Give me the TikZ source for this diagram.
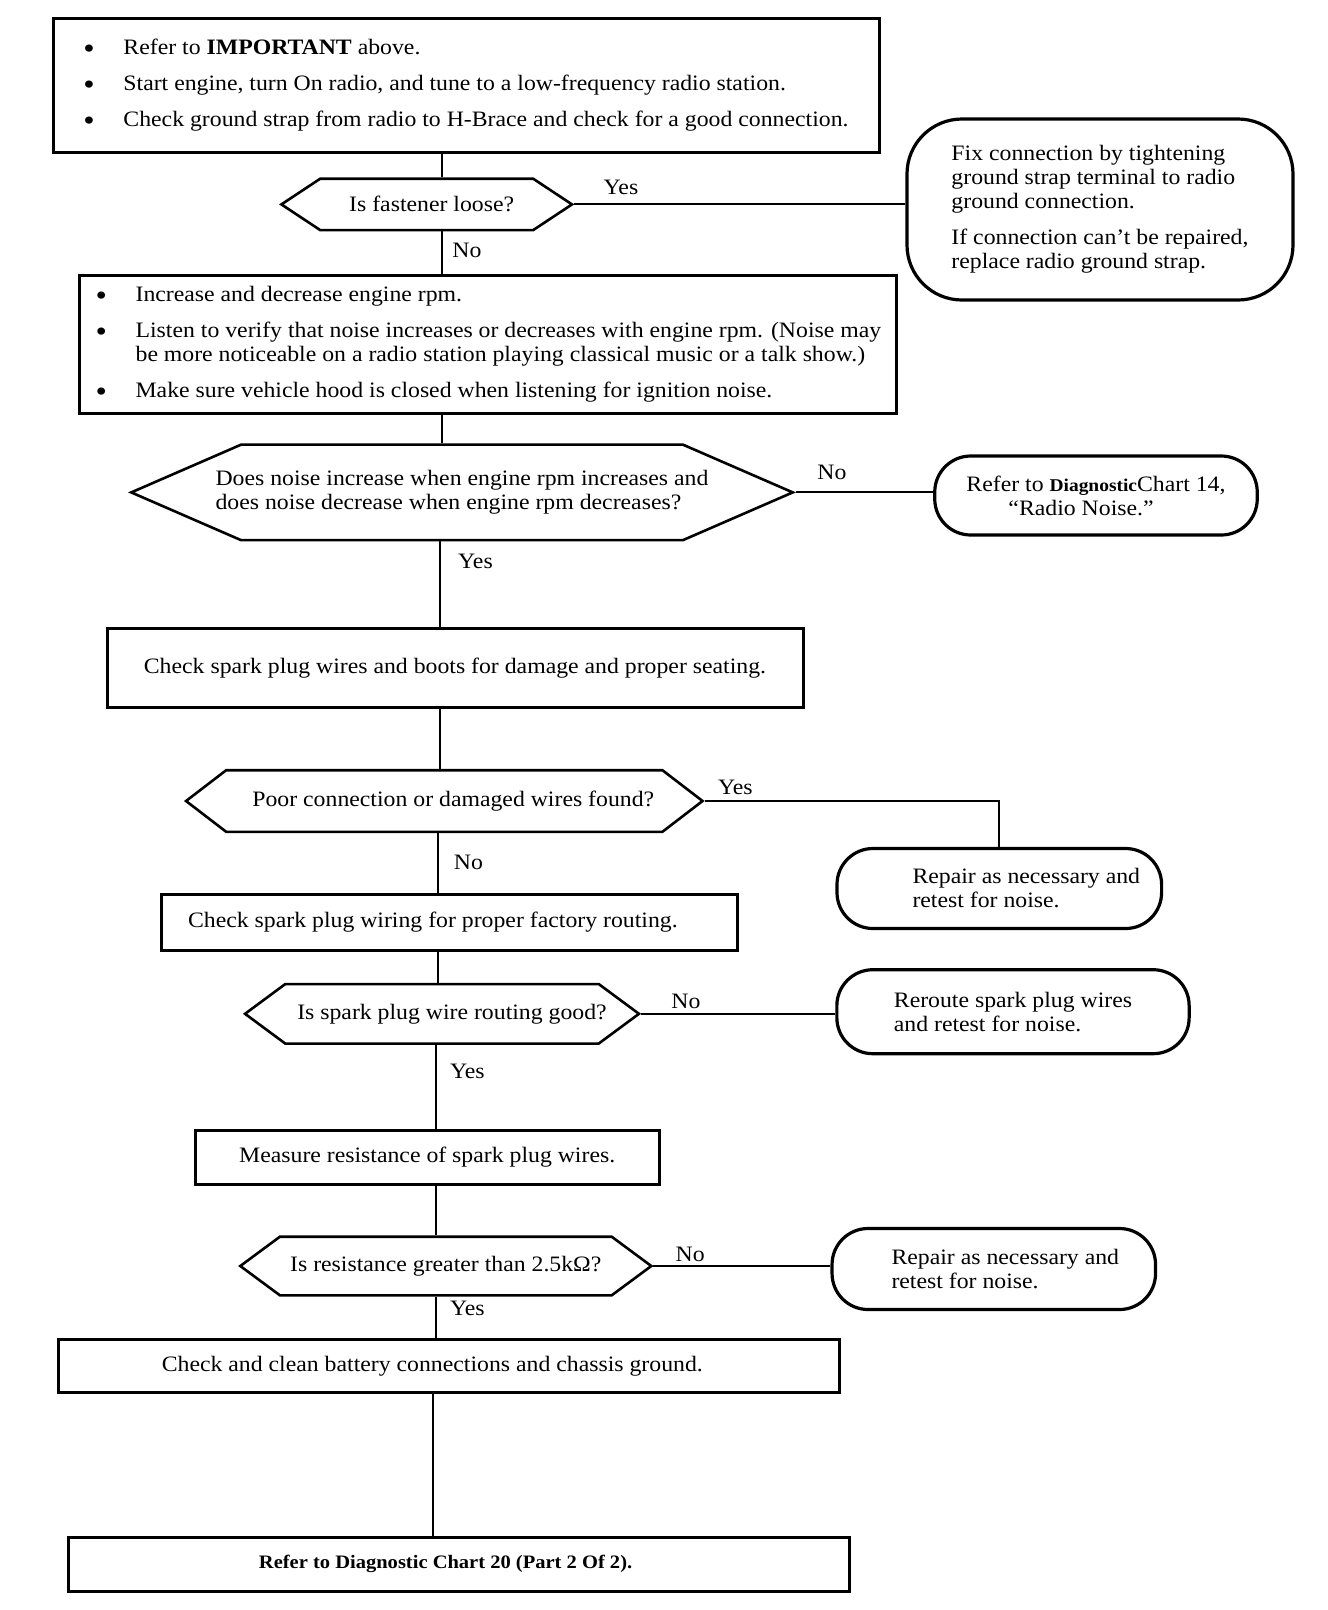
\documentclass[tikz,border=0pt]{standalone}
\usepackage{fontspec}
\setmainfont{Liberation Serif}[FakeStretch=1.08]
\usetikzlibrary{shapes.symbols,positioning}
\newcommand{\bitem}[1]{\makebox[40pt][l]{\raisebox{-4pt}{\fontsize{30}{24}\selectfont\textbullet}}#1}
\newcommand{\bcont}[1]{\hspace*{40pt}#1}
\tikzset{
  box/.style={draw, line width=3pt, align=left, inner sep=0pt},
  decision/.style={signal, signal to=east and west, draw, line width=2.6pt,
                   align=center, inner sep=0pt},
  term/.style={draw, line width=3.2pt, rounded corners=36pt, align=left, inner sep=0pt},
  line/.style={line width=2pt},
  lbl/.style={inner sep=0pt},
  tshift/.style={execute at begin node={\hspace*{#1}}},
}
\begin{document}
\begin{tikzpicture}[x=1pt,y=-1pt,font=\fontsize{22}{24}\selectfont]
  \useasboundingbox (0,0) rectangle (1328,1610);
  % trunk
  \coordinate (ta) at (442,0);
  \coordinate (tb) at (439.6,0);
  \coordinate (tc) at (437.5,0);
  \coordinate (td) at (436,0);
  \coordinate (te) at (433.4,0);
  % main column
  \node[box, minimum width=826pt, minimum height=133.5pt] (b1) at (466,85.3)
    {\bitem{Refer to \textbf{IMPORTANT} above.}\\[12pt]
     \bitem{Start engine, turn On radio, and tune to a low-frequency radio station.}\\[12pt]
     \bitem{Check ground strap from radio to H-Brace and check for a good connection.}};
  \node[decision, tshift=10pt, minimum width=290.6pt, minimum height=51.3pt, signal pointer angle=67] (d1) at (426.7,204.4)
    {Is fastener loose?};
  \node[box, minimum width=817pt, minimum height=138pt] (b2) at (488.4,344)
    {\bitem{Increase and decrease engine rpm.}\\[12pt]
     \bitem{Listen to verify that noise increases or decreases with engine rpm. (Noise may}\\
     \bcont{be more noticeable on a radio station playing classical music or a talk show.)}\\[12pt]
     \bitem{Make sure vehicle hood is closed when listening for ignition noise.}};
  \node[decision, align=left, inner xsep=-27pt, minimum width=661.5pt, minimum height=95.5pt, signal pointer angle=47] (d2) at (462,492.4)
    {Does noise increase when engine rpm increases and\\does noise decrease when engine rpm decreases?};
  \node[box, minimum width=696pt, minimum height=79pt] (b3) at (455,668)
    {Check spark plug wires and boots for damage and proper seating.};
  \node[decision, tshift=18pt, minimum width=516.5pt, minimum height=61.6pt, signal pointer angle=75] (d3) at (444.3,801)
    {Poor connection or damaged wires found?};
  \node[box, tshift=-33pt, minimum width=576pt, minimum height=55.4pt] (b4) at (449.4,922.3)
    {Check spark plug wiring for proper factory routing.};
  \node[decision, tshift=20pt, inner xsep=-8pt, minimum width=393.4pt, minimum height=59.5pt, signal pointer angle=73] (d4) at (442,1013.8)
    {Is spark plug wire routing good?};
  \node[box, minimum width=464.4pt, minimum height=53.4pt] (b5) at (427.2,1157.5)
    {Measure resistance of spark plug wires.};
  \node[decision, minimum width=411pt, minimum height=58.6pt, signal pointer angle=73] (d5) at (445.8,1266)
    {Is resistance greater than 2.5kΩ?};
  \node[box, tshift=-33pt, minimum width=780.6pt, minimum height=53.4pt] (b6) at (448.8,1366)
    {Check and clean battery connections and chassis ground.};
  \node[box, tshift=-27pt, minimum width=780.6pt, minimum height=53.4pt, font=\fontsize{19}{22}\selectfont\bfseries] (b7) at (459.1,1564.3)
    {Refer to Diagnostic Chart 20 (Part 2 Of 2).};
  % side terminals
  \node[term, rounded corners=55pt, minimum width=386pt, minimum height=181pt] (fix) at (1100,209.5)
    {Fix connection by tightening\\ground strap terminal to radio\\ground connection.\\[12pt]
     If connection can’t be repaired,\\replace radio ground strap.};
  \node[term, minimum width=322.5pt, minimum height=79pt] (ref14) at (1096,495.5)
    {Refer to {\bfseries\fontsize{18}{20}\selectfont Diagnostic}Chart 14,\\\hspace*{42pt}“Radio Noise.”};
  \node[term, minimum width=324.6pt, minimum height=80pt] (rep1) at (999.3,888.5)
    {\hspace*{54pt}Repair as necessary and\\\hspace*{54pt}retest for noise.};
  \node[term, minimum width=352.3pt, minimum height=84pt] (rrt) at (1013,1011.7)
    {Reroute spark plug wires\\and retest for noise.};
  \node[term, minimum width=323.5pt, minimum height=81pt] (rep2) at (993.8,1269)
    {\hspace*{23pt}Repair as necessary and\\\hspace*{23pt}retest for noise.};
  % branch labels
  \node[lbl] (yes1) at (621,187) {Yes};
  \node[lbl] (no1) at (467,250.6) {No};
  \node[lbl] (no2) at (832,472.5) {No};
  \node[lbl] (yes2) at (475.5,561.8) {Yes};
  \node[lbl] (yes3) at (735.4,787.8) {Yes};
  \node[lbl] (no3) at (468.4,862.8) {No};
  \node[lbl] (no4) at (686,1001.4) {No};
  \node[lbl] (yes4) at (467.3,1071.3) {Yes};
  \node[lbl] (no5) at (690.2,1254) {No};
  \node[lbl] (yes5) at (467.3,1308.5) {Yes};
  % connectors
  \draw[line] (b1.south -| ta) -- (d1.north -| ta);
  \draw[line] (d1.south -| ta) -- (b2.north -| ta);
  \draw[line] (d1.east) -- (d1.east -| fix.west);
  \draw[line] (b2.south -| ta) -- (d2.north -| ta);
  \draw[line] (d2.east) -- (d2.east -| ref14.west);
  \draw[line] (d2.south -| tb) -- (b3.north -| tb);
  \draw[line] (b3.south -| tb) -- (d3.north -| tb);
  \draw[line] (d3.east) -| (rep1.north);
  \draw[line] (d3.south -| tc) -- (b4.north -| tc);
  \draw[line] (b4.south -| tc) -- (d4.north -| tc);
  \draw[line] (d4.east) -- (d4.east -| rrt.west);
  \draw[line] (d4.south -| td) -- (b5.north -| td);
  \draw[line] (b5.south -| td) -- (d5.north -| td);
  \draw[line] (d5.east) -- (d5.east -| rep2.west);
  \draw[line] (d5.south -| td) -- (b6.north -| td);
  \draw[line] (b6.south -| te) -- (b7.north -| te);
\end{tikzpicture}
\end{document}
